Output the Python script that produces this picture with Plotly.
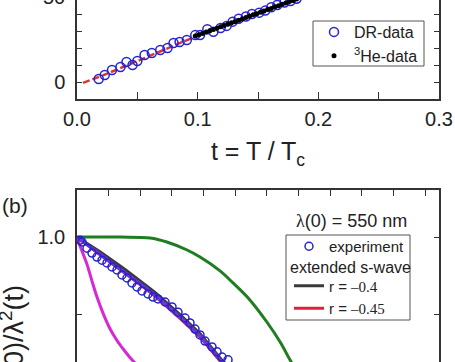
import plotly.graph_objects as go

# ---------------- panel (a) data ----------------
dr_t = [0.018, 0.023, 0.029, 0.036, 0.041, 0.046, 0.050, 0.056, 0.062, 0.069, 0.075,
        0.080, 0.085, 0.091, 0.098, 0.102, 0.108, 0.113, 0.119, 0.124, 0.129, 0.134,
        0.140, 0.145, 0.151, 0.156, 0.161, 0.166, 0.172, 0.177, 0.182]
dr_v = [1.8, 4.1, 7.1, 8.8, 11.8, 10.0, 12.4, 15.9, 17.1, 18.8, 20.0,
        22.9, 23.5, 24.7, 27.6, 27.6, 31.0, 29.5, 31.8, 33.0, 35.5, 37.2,
        38.5, 40.0, 40.8, 42.0, 44.0, 45.3, 46.8, 47.6, 49.0]

he_t = [0.098, 0.101, 0.104, 0.107, 0.110, 0.113, 0.116, 0.119, 0.122, 0.125, 0.128,
        0.131, 0.134, 0.137, 0.140, 0.143, 0.146, 0.149, 0.152, 0.155, 0.158, 0.161,
        0.164, 0.167, 0.170, 0.173, 0.176, 0.179, 0.182]
he_v = [27.0, 27.8, 28.5, 29.4, 30.1, 30.9, 31.6, 32.5, 33.2, 34.0, 34.8,
        35.5, 36.4, 37.1, 37.9, 38.7, 39.5, 40.2, 41.0, 41.8, 42.6, 43.3,
        44.2, 44.9, 45.7, 46.5, 47.3, 48.0, 48.8]

fit_t = [0.005, 0.02, 0.05, 0.08, 0.10, 0.12, 0.15, 0.18, 0.19]
fit_v = [-0.5, 3.5, 12.3, 21.5, 27.3, 32.8, 40.6, 48.3, 51.0]

# ---------------- panel (b) data ----------------
exp_t = [0.0095, 0.0158, 0.0316, 0.0474, 0.0632, 0.079, 0.0948, 0.1106, 0.1264, 0.1422,
         0.158, 0.1738, 0.1896, 0.2054, 0.2244, 0.2402, 0.256, 0.2781, 0.3003, 0.3192,
         0.3413, 0.3571, 0.3729, 0.3887, 0.4046, 0.4267, 0.4425, 0.4583, 0.4772]
exp_v = [0.990, 0.984, 0.964, 0.948, 0.935, 0.925, 0.916, 0.903, 0.893, 0.877,
         0.867, 0.851, 0.838, 0.825, 0.815, 0.805, 0.799, 0.789, 0.773, 0.756,
         0.737, 0.721, 0.701, 0.682, 0.662, 0.643, 0.627, 0.610, 0.601]

green_t = [0.0, 0.136, 0.231, 0.284, 0.348, 0.389, 0.452, 0.493, 0.547, 0.600, 0.642, 0.673, 0.690]
green_v = [1.0, 1.0, 0.997, 0.984, 0.958, 0.935, 0.890, 0.851, 0.795, 0.724, 0.659, 0.601, 0.570]

mag_t = [0.0, 0.0095, 0.0221, 0.0316, 0.0474, 0.0632, 0.0822, 0.1043, 0.1264, 0.1485, 0.1738, 0.1833]
mag_v = [1.0, 0.971, 0.938, 0.912, 0.857, 0.805, 0.753, 0.702, 0.664, 0.633, 0.601, 0.591]

line_t = [0.0, 0.0727, 0.152, 0.2465, 0.3255, 0.389, 0.458, 0.470]
black_v = [1.0, 0.952, 0.895, 0.820, 0.748, 0.686, 0.600, 0.588]
red_v = [1.0, 0.942, 0.882, 0.808, 0.736, 0.675, 0.590, 0.577]
purple_v = [1.0, 0.945, 0.886, 0.812, 0.740, 0.679, 0.594, 0.580]

FONT = "Liberation Sans, Arial, sans-serif"
AX = "#333333"
BLUE = "#2424cc"

fig = go.Figure()

# panel (a)
fig.add_trace(go.Scatter(x=fit_t, y=fit_v, mode="lines", xaxis="x", yaxis="y",
                         line=dict(color="#e0303a", width=2.5, dash="7px,3px"),
                         showlegend=False))
fig.add_trace(go.Scatter(x=dr_t, y=dr_v, mode="markers", name="DR-data", xaxis="x", yaxis="y",
                         marker=dict(symbol="circle-open", size=9, color=BLUE, line=dict(width=1.5))))
fig.add_trace(go.Scatter(x=he_t, y=he_v, mode="markers", name="<sup>3</sup>He-data", xaxis="x", yaxis="y",
                         marker=dict(symbol="circle", size=5, color="black")))

# panel (b)
fig.add_trace(go.Scatter(x=green_t, y=green_v, mode="lines", xaxis="x2", yaxis="y2",
                         line=dict(color="#1e7d1e", width=3, shape="spline"), showlegend=False))
fig.add_trace(go.Scatter(x=mag_t, y=mag_v, mode="lines", xaxis="x2", yaxis="y2",
                         line=dict(color="#d42ad4", width=3, shape="spline"), showlegend=False))
fig.add_trace(go.Scatter(x=line_t, y=black_v, mode="lines", xaxis="x2", yaxis="y2",
                         name="r = <span style='font-family:Liberation Serif'>\u20130.4</span>",
                         line=dict(color="#3a3a3a", width=3), legend="legend2",
                         legendgroup="b", legendrank=2))
fig.add_trace(go.Scatter(x=line_t, y=red_v, mode="lines", xaxis="x2", yaxis="y2",
                         name="r = <span style='font-family:Liberation Serif'>\u20130.45</span>",
                         line=dict(color="#e0203a", width=3), legend="legend2",
                         legendgroup="b", legendrank=3))
fig.add_trace(go.Scatter(x=line_t, y=purple_v, mode="lines", xaxis="x2", yaxis="y2",
                         line=dict(color="#6e34d6", width=3.5), showlegend=False))
fig.add_trace(go.Scatter(x=exp_t, y=exp_v, mode="markers", name="experiment", xaxis="x2", yaxis="y2",
                         marker=dict(symbol="circle-open", size=8, color=BLUE, line=dict(width=1.5)),
                         legend="legend2", legendgroup="a", legendrank=1))

W, H = 455, 362
L, R = 77, 16
PW = W - L - R


def px(x):
    return (x - L) / PW


def py(y):
    return 1 - y / H


common = dict(showline=True, linecolor=AX, linewidth=1.5, ticks="inside", tickcolor=AX,
              tickwidth=1.2, showgrid=False, zeroline=False,
              tickfont=dict(family=FONT, size=20, color="#222"))

fig.update_layout(
    width=W, height=H,
    margin=dict(l=L, r=R, t=0, b=0),
    paper_bgcolor="white", plot_bgcolor="white",
    font=dict(family=FONT, color="#222"),
    xaxis=dict(domain=[0, 1], anchor="y", range=[0, 0.3], mirror=False,
               tickvals=[0, 0.1, 0.2, 0.3], ticktext=["0.0", "0.1", "0.2", "0.3"], ticklen=7,
               minor=dict(tickvals=[0.05, 0.15, 0.25], ticks="inside", ticklen=7, tickcolor=AX, tickwidth=1.2),
               ticklabelstandoff=1,
               title=dict(text="t = T / T<sub>c</sub>", font=dict(family=FONT, size=25, color="#222"), standoff=14),
               **common),
    yaxis=dict(domain=[py(99), 1], anchor="x", range=[-10, 48.24], mirror="ticks",
               tickvals=[0], ticktext=["0"], ticklen=5,
               minor=dict(tickvals=[10, 20, 30, 40], ticks="inside", ticklen=5, tickcolor=AX, tickwidth=1.2),
               ticklabelstandoff=6,
               **common),
    xaxis2=dict(domain=[0, 1], anchor="y2", side="top", range=[0, 1.144], mirror=False,
                tick0=0, dtick=0.1, ticklen=6, showticklabels=False, **common),
    yaxis2=dict(domain=[0, py(190)], anchor="x2", range=[0.594, 1.153], mirror="ticks",
                tickvals=[1.0], ticktext=["1.0"], ticklen=5,
                minor=dict(tickvals=[0.75], ticks="inside", ticklen=5, tickcolor=AX, tickwidth=1.2),
                ticklabelstandoff=6,
                **common),
    legend=dict(x=px(423), y=py(15), xanchor="right", yanchor="top",
                borderwidth=0, bgcolor="rgba(0,0,0,0)",
                font=dict(family=FONT, size=16, color="#222")),
    legend2=dict(x=px(410), y=py(230), xanchor="right", yanchor="top",
                 borderwidth=0, bgcolor="rgba(0,0,0,0)",
                 traceorder="grouped", tracegroupgap=17,
                 font=dict(family=FONT, size=15, color="#222")),
)

# legend frames
for (x0, y0, x1, y1) in [(313, 21, 424, 66), (286, 235, 410, 320)]:
    fig.add_shape(type="rect", xref="paper", yref="paper",
                  x0=px(x0), x1=px(x1), y0=py(y1), y1=py(y0),
                  line=dict(color="#555", width=1), fillcolor="rgba(0,0,0,0)", layer="above")

ann = [
    dict(text="50", x=px(67), y=py(-3), xanchor="right", yanchor="middle",
         font=dict(family=FONT, size=20, color="#222")),
    dict(text="(b)", x=px(15), y=py(205), xanchor="center", yanchor="middle",
         font=dict(family=FONT, size=21, color="#222")),
    dict(text="<span style='font-family:Liberation Serif'>\u03bb</span>(0) = 550 nm",
         x=px(351), y=py(221), xanchor="center", yanchor="middle",
         font=dict(family=FONT, size=18, color="#222")),
    dict(text="extended s-wave", x=px(288), y=py(267), xanchor="left", yanchor="middle",
         font=dict(family=FONT, size=16, color="#222")),
    dict(text="\u03bb<sup>2</sup>(0)/\u03bb<sup>2</sup>(t)", textangle=-90,
         x=px(12), y=py(283), xanchor="center", yanchor="top",
         font=dict(family=FONT, size=27, color="#222")),
]
for a in ann:
    a.update(xref="paper", yref="paper", showarrow=False)
fig.update_layout(annotations=ann)

fig.write_html("out.html", config={"displayModeBar": False},
               post_script="document.body.style.margin='0';document.body.style.overflow='hidden';")
